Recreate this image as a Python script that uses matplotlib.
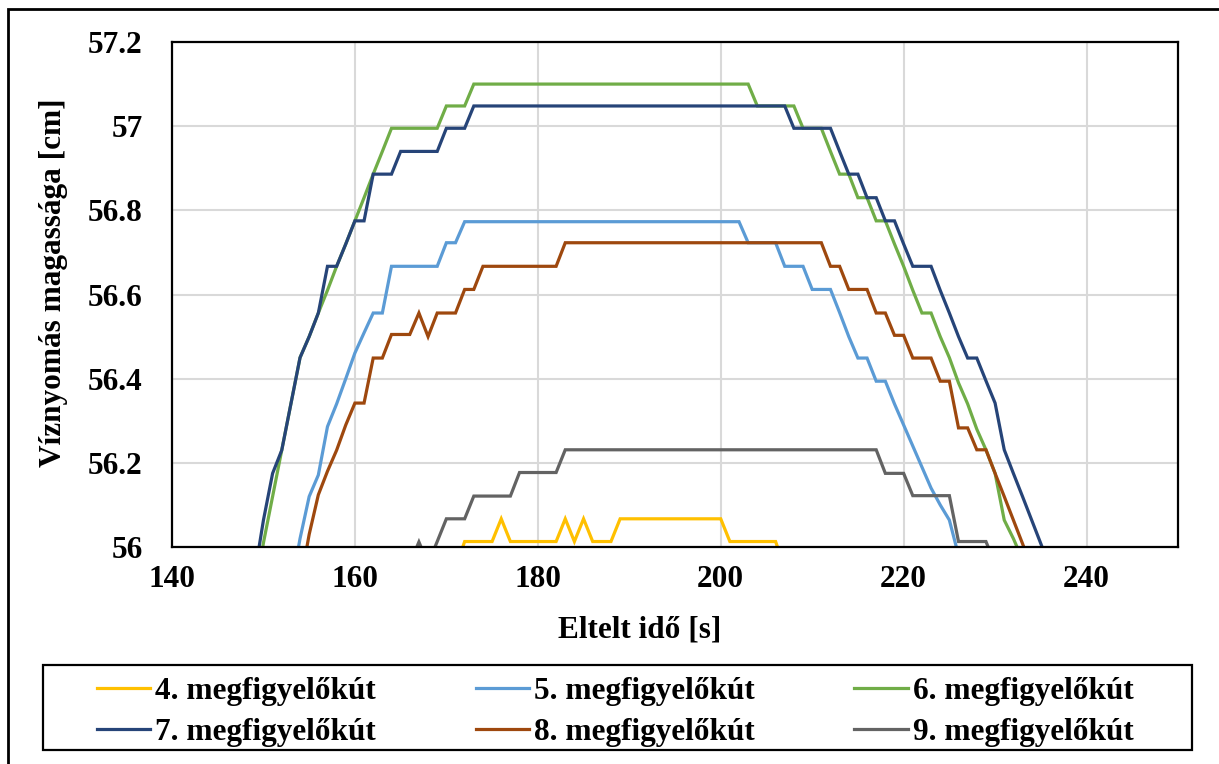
import matplotlib
matplotlib.use("Agg")
import matplotlib.pyplot as plt
from matplotlib.patches import Rectangle
from matplotlib.ticker import FuncFormatter

# ================= DATA =================
# time [s] and water pressure head [cm] for each observation well
t4 = [171, 172, 175, 176, 177, 182, 183, 184, 185, 186, 188, 189, 200, 201, 206, 207]
h4 = [55.95, 56.013, 56.013, 56.067, 56.013, 56.013, 56.067, 56.013, 56.067, 56.013,
      56.013, 56.067, 56.067, 56.013, 56.013, 55.95]

t5 = [153, 154, 155, 156, 157, 158, 159, 160, 161, 162, 163, 164, 169, 170, 171, 172,
      202, 203, 206, 207, 209, 210, 212, 213, 214, 215, 216, 217, 218, 219, 220, 221,
      222, 223, 224, 225, 226]
h5 = [55.90, 56.02, 56.12, 56.171, 56.286, 56.34, 56.40, 56.461, 56.509, 56.556, 56.556,
      56.667, 56.667, 56.723, 56.723, 56.773, 56.773, 56.723, 56.723, 56.667, 56.667,
      56.612, 56.612, 56.557, 56.50, 56.449, 56.449, 56.394, 56.394, 56.34, 56.29, 56.24,
      56.19, 56.14, 56.10, 56.064, 55.98]

t6 = [149, 150, 151, 152, 153, 154, 155, 156, 157, 158, 159, 160, 161, 162, 163, 164,
      169, 170, 172, 173, 203, 204, 208, 209, 211, 212, 213, 214, 215, 216, 217, 218,
      219, 220, 221, 222, 223, 224, 225, 226, 227, 228, 229, 230, 231, 232, 233]
h6 = [55.88, 56.01, 56.12, 56.23, 56.34, 56.45, 56.50, 56.556, 56.61, 56.667, 56.72,
      56.775, 56.83, 56.886, 56.94, 56.995, 56.995, 57.048, 57.048, 57.10, 57.10, 57.048,
      57.048, 56.995, 56.995, 56.94, 56.886, 56.886, 56.83, 56.83, 56.775, 56.775, 56.72,
      56.667, 56.61, 56.556, 56.556, 56.50, 56.45, 56.39, 56.34, 56.28, 56.231, 56.175,
      56.064, 56.02, 55.97]

t7 = [149, 150, 151, 152, 153, 154, 155, 156, 157, 158, 159, 160, 161, 162, 164, 165,
      169, 170, 172, 173, 207, 208, 212, 213, 214, 215, 216, 217, 218, 219, 220, 221,
      223, 224, 225, 226, 227, 228, 229, 230, 231, 232, 233, 234, 235, 236]
h7 = [55.93, 56.064, 56.175, 56.23, 56.34, 56.45, 56.50, 56.556, 56.667, 56.667, 56.72,
      56.775, 56.775, 56.886, 56.886, 56.94, 56.94, 56.995, 56.995, 57.048, 57.048,
      56.995, 56.995, 56.94, 56.886, 56.886, 56.83, 56.83, 56.775, 56.775, 56.72, 56.667,
      56.667, 56.61, 56.556, 56.50, 56.449, 56.449, 56.395, 56.342, 56.231, 56.175,
      56.12, 56.064, 56.008, 55.95]

t8 = [154, 155, 156, 157, 158, 159, 160, 161, 162, 163, 164, 166, 167, 168, 169, 171,
      172, 173, 174, 182, 183, 211, 212, 213, 214, 216, 217, 218, 219, 220, 221, 223,
      224, 225, 226, 227, 228, 229, 230, 231, 232, 233, 234]
h8 = [55.91, 56.03, 56.124, 56.18, 56.23, 56.29, 56.342, 56.342, 56.449, 56.449, 56.505,
      56.505, 56.556, 56.50, 56.556, 56.556, 56.612, 56.612, 56.667, 56.667, 56.723,
      56.723, 56.667, 56.667, 56.612, 56.612, 56.556, 56.556, 56.503, 56.503, 56.449,
      56.449, 56.394, 56.394, 56.283, 56.283, 56.231, 56.231, 56.175, 56.12, 56.064,
      56.008, 55.95]

t9 = [166, 167, 168, 169, 170, 172, 173, 177, 178, 182, 183, 217, 218, 220, 221, 225,
      226, 229, 230]
h9 = [55.96, 56.012, 55.96, 56.013, 56.067, 56.067, 56.121, 56.121, 56.177, 56.177,
      56.231, 56.231, 56.175, 56.175, 56.122, 56.122, 56.013, 56.013, 55.96]

labels = ["4. megfigyelőkút", "5. megfigyelőkút", "6. megfigyelőkút",
          "7. megfigyelőkút", "8. megfigyelőkút", "9. megfigyelőkút"]
colors = ["#FFC000", "#5B9BD5", "#70AD47", "#264478", "#9E480E", "#636363"]

yticks = [56, 56.2, 56.4, 56.6, 56.8, 57, 57.2]
xticks = [140, 160, 180, 200, 220, 240]

# ================= STYLE =================
FS = 22.5
plt.rcParams["font.family"] = ["Liberation Serif", "DejaVu Serif"]
plt.rcParams["font.weight"] = "bold"
plt.rcParams["font.size"] = FS

fig = plt.figure(figsize=(12.19, 7.64), dpi=100)
ax = fig.add_axes([172 / 1219, 1 - 547 / 764, 1006 / 1219, 505 / 764])

# ================= PLOT =================
series = [(t4, h4), (t5, h5), (t6, h6), (t7, h7), (t8, h8), (t9, h9)]
handles = []
for (t, h), lab, col in zip(series, labels, colors):
    line, = ax.plot(t, h, color=col, lw=2.3, label=lab, solid_joinstyle="miter")
    handles.append(line)

ax.set_xlim(140, 250)
ax.set_ylim(56, 57.2)
ax.set_xticks(xticks)
ax.set_yticks(yticks)
ax.yaxis.set_major_formatter(FuncFormatter(lambda v, p: f"{v:g}"))
ax.tick_params(axis="both", length=0, labelsize=FS)
ax.tick_params(axis="y", pad=21)
ax.tick_params(axis="x", pad=13)
ax.grid(True, color="#D9D9D9", lw=1.5)
ax.set_axisbelow(True)
for s in ax.spines.values():
    s.set_linewidth(1.6)
    s.set_color("black")

ax.set_xlabel("Eltelt idő [s]", fontsize=FS, fontweight="bold")
ax.xaxis.set_label_coords((640 - 172) / 1006, (547 - 615) / 505)
ax.set_ylabel("Víznyomás magassága [cm]", fontsize=FS, fontweight="bold")
ax.yaxis.set_label_coords((68 - 172) / 1006, 0.523)

# legend in row order (4,5,6 / 7,8,9)
order = [0, 3, 1, 4, 2, 5]
fig.legend([handles[i] for i in order], [labels[i] for i in order],
           loc="center", bbox_to_anchor=(615 / 1219, 1 - 712 / 764), ncol=3,
           frameon=False, fontsize=FS, handlelength=1.7, handletextpad=0.16,
           columnspacing=3.2, labelspacing=0.37)
fig.patches.append(Rectangle((43 / 1219, 1 - 750 / 764), 1149 / 1219, 85 / 764,
                             transform=fig.transFigure, fill=False,
                             edgecolor="black", lw=1.6))

# outer chart-area border (left and top visible)
fig.patches.append(Rectangle((8 / 1219, -0.05), 1.2, 1.05 - 8.5 / 764,
                             transform=fig.transFigure, fill=False,
                             edgecolor="black", lw=2))

fig.savefig("out.png", dpi=100)
